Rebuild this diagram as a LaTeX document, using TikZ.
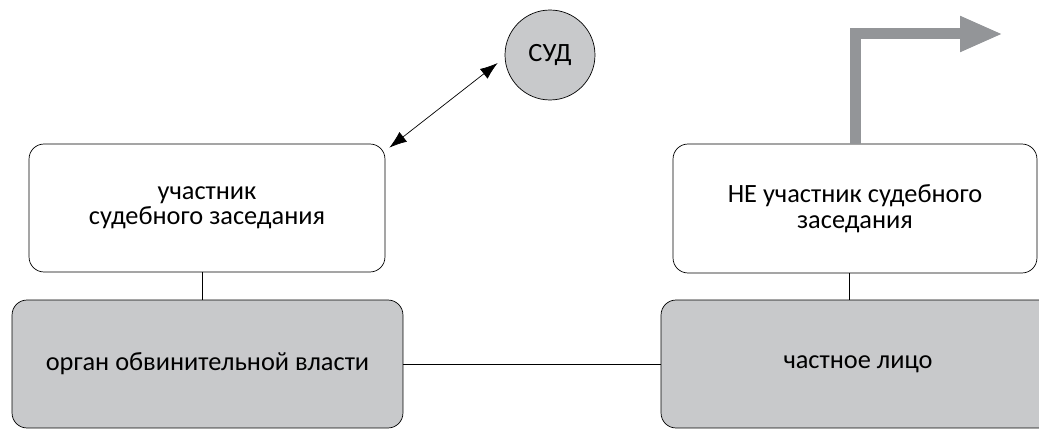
\documentclass[tikz,border=0pt]{standalone}
\usepackage{fontspec}
\setmainfont{Carlito}
\usepackage{xcolor}
\usetikzlibrary{arrows.meta}

\definecolor{boxgray}{RGB}{200,201,203}
\definecolor{arrowgray}{RGB}{147,149,152}

\tikzset{
    whitebox/.style={draw, rounded corners=0.3cm, fill=white, align=center,
        font=\fontsize{15}{14.5}\selectfont},
    graybox/.style={whitebox, fill=boxgray},
    court/.style={circle, draw, fill=boxgray, minimum size=1.8cm, inner sep=0pt,
        font=\fontsize{15}{14.5}\selectfont}
}

\begin{document}
\begin{tikzpicture}[x=0.02cm, y=-0.02cm]
    \useasboundingbox (0,0) rectangle (1039,429);
    \clip (0,0) rectangle (1039,429);

    % left side
    \node[whitebox, minimum width=7.12cm, minimum height=2.56cm] (part) at (207,208)
        {участник\\судебного заседания};
    \node[graybox, minimum width=7.82cm, minimum height=2.56cm] (organ) at (207.5,364)
        {орган обвинительной власти};

    % right side
    \node[whitebox, minimum width=7.28cm, minimum height=2.58cm] (nonpart) at (855,208.5)
        {НЕ участник судебного\\заседания};
    \node[graybox, minimum width=7.88cm, minimum height=2.56cm] (private) at (858,364)
        {частное лицо};

    \node[court] (sud) at (550,55) {СУД};

    \draw (part.south -| 202,0) -- (organ.north -| 202,0);
    \draw (nonpart.south -| 849,0) -- (private.north -| 849,0);
    \draw (organ.east) -- (organ.east -| private.west);

    % link to the court
    \coordinate (a) at ([shift={(4,4)}]part.north east);
    \coordinate (b) at ([shift={(-7,8)}]sud.west);
    \draw[{Latex[length=10pt,width=7pt]}-{Latex[length=10pt,width=7pt]}] (a) -- (b);

    \coordinate (up) at (855,34);
    \coordinate (out) at (1003,34);
    \draw[arrowgray, line width=0.22cm, -{Triangle[length=0.86cm,width=0.66cm]}]
        (nonpart.north -| up) -- (up) -- (out);
\end{tikzpicture}
\end{document}
